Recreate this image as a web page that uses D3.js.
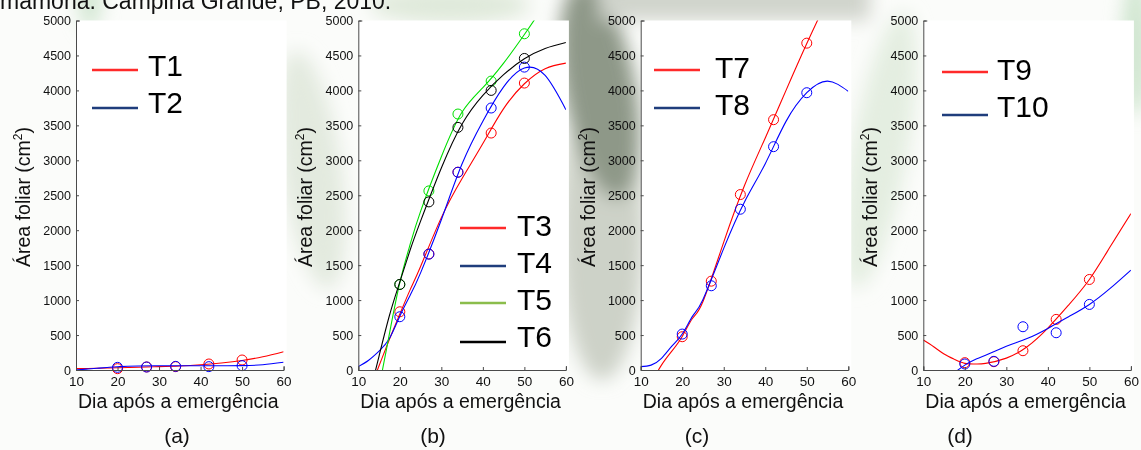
<!DOCTYPE html>
<html>
<head>
<meta charset="utf-8">
<script src="https://cdn.jsdelivr.net/npm/d3@7"></script>
<style>
body { margin: 0; background: #fff; }
text { font-family: "Liberation Sans", Arial, sans-serif; }
</style>
</head>
<body>
<div id="chart"></div>
<script>
"use strict";

// sampling days (observed) and days where the fitted curves were read
var days = [20, 27, 34, 42, 50];
var fitDays = [10, 12.5, 15, 17.5, 20, 22.5, 25, 30, 35, 40, 45, 50, 55, 60];

var obsT1 = [19, 43, 48, 86, 143];
var obsT2 = [38, 43, 52, 48, 62];
var obsT3 = [833, 1660, 2830, 3390, 4105];
var obsT4 = [762, 1657, 2829, 3748, 4333];
var obsT5 = [1224, 2562, 3662, 4133, 4810];
var obsT6 = [1224, 2405, 3471, 4000, 4457];
var obsT7 = [476, 1271, 2510, 3581, 4676];
var obsT8 = [514, 1205, 2300, 3195, 3967];
var obsT9 = [105, 119, 276, 724, 1295];
var obsT10 = [86, 124, 619, 533, 938];

var fitT1 = [20, 22, 25, 28, 32, 36, 40, 48, 58, 75, 100, 135, 190, 262];
var fitT2 = [0, 12, 24, 36, 46, 54, 58, 60, 60, 60, 60, 62, 75, 110];
var fitT3 = [-700, -320, 60, 440, 800, 1150, 1480, 2180, 2740, 3240, 3740, 4095, 4310, 4390];
var fitT4 = [48, 140, 270, 450, 770, 1070, 1390, 2150, 2950, 3560, 4050, 4320, 4214, 3724];
var fitT5 = [-1800, -1000, -250, 520, 1250, 1800, 2270, 3050, 3690, 4040, 4390, 4800, 5250, 5800];
var fitT6 = [-1000, -400, 200, 780, 1260, 1720, 2130, 2890, 3520, 3930, 4225, 4452, 4600, 4685];
var fitT7 = [-520, -200, 70, 270, 480, 740, 980, 1830, 2640, 3320, 4000, 4670, 5300, 5900];
var fitT8 = [48, 70, 167, 340, 514, 770, 1010, 1740, 2405, 2952, 3557, 3967, 4133, 3986];
var fitT9 = [429, 333, 229, 152, 95, 86, 95, 170, 333, 600, 929, 1295, 1762, 2238];
var fitT10 = [-500, -330, -170, -40, 70, 150, 210, 340, 450, 595, 762, 938, 1167, 1429];

var xTicks = [10, 20, 30, 40, 50, 60];
var yTicks = [0, 500, 1000, 1500, 2000, 2500, 3000, 3500, 4000, 4500, 5000];

var RED = "#ff0000", BLUE = "#0000ff", GREEN = "#00e000", BLACK = "#000000";

var panels = [
  { left: 76, label: "(a)", labelX: 177, legX: 92, textX: 148,
    series: [
      { name: "T1", obs: obsT1, fit: fitT1, color: RED, legColor: "#ff2a2a", legY: 70, textY: 76 },
      { name: "T2", obs: obsT2, fit: fitT2, color: BLUE, legColor: "#1f3d7c", legY: 108, textY: 113 }
    ] },
  { left: 358.3, label: "(b)", labelX: 433, legX: 460, textX: 517,
    series: [
      { name: "T3", obs: obsT3, fit: fitT3, color: RED, legColor: "#ff2a2a", legY: 228, textY: 236 },
      { name: "T4", obs: obsT4, fit: fitT4, color: BLUE, legColor: "#1f3d7c", legY: 266, textY: 273 },
      { name: "T5", obs: obsT5, fit: fitT5, color: GREEN, legColor: "#8bbd4c", legY: 303, textY: 310 },
      { name: "T6", obs: obsT6, fit: fitT6, color: BLACK, legColor: "#000000", legY: 342, textY: 347 }
    ] },
  { left: 640.7, label: "(c)", labelX: 697, legX: 654, textX: 715,
    series: [
      { name: "T7", obs: obsT7, fit: fitT7, color: RED, legColor: "#ff2a2a", legY: 70, textY: 78 },
      { name: "T8", obs: obsT8, fit: fitT8, color: BLUE, legColor: "#1f3d7c", legY: 108, textY: 115 }
    ] },
  { left: 923.3, label: "(d)", labelX: 960, legX: 942, textX: 997,
    series: [
      { name: "T9", obs: obsT9, fit: fitT9, color: RED, legColor: "#ff2a2a", legY: 72, textY: 80 },
      { name: "T10", obs: obsT10, fit: fitT10, color: BLUE, legColor: "#1f3d7c", legY: 115, textY: 117 }
    ] }
];

var W = 1141, H = 450;
var plotW = 207.6, plotTop = 20.5, plotBottom = 370;

var svg = d3.select("#chart").append("svg")
    .attr("width", W)
    .attr("height", H);

// faint leafy background of the original page
var defs = svg.append("defs");
defs.append("filter").attr("id", "blur").attr("x", "-50%").attr("y", "-50%")
    .attr("width", "200%").attr("height", "200%")
    .append("feGaussianBlur").attr("stdDeviation", 9);

svg.append("rect").attr("x", 0).attr("y", 0).attr("width", W).attr("height", H).attr("fill", "#fbfcfa");
var bg = svg.append("g").attr("filter", "url(#blur)");
bg.append("ellipse").attr("cx", 90).attr("cy", 0).attr("rx", 12).attr("ry", 30).attr("fill", "#d3e7d3");
bg.append("ellipse").attr("cx", 312).attr("cy", 170).attr("rx", 30).attr("ry", 120)
    .attr("transform", "rotate(-8,312,170)").attr("fill", "#e3eadf");
bg.append("ellipse").attr("cx", 450).attr("cy", 5).attr("rx", 80).attr("ry", 18).attr("fill", "#dfe9da");
bg.append("ellipse").attr("cx", 602).attr("cy", 230).attr("rx", 42).attr("ry", 150).attr("fill", "#cdd2c8");
bg.append("ellipse").attr("cx", 600).attr("cy", 90).attr("rx", 36).attr("ry", 110)
    .attr("transform", "rotate(-10,600,90)").attr("fill", "#8e9888");
bg.append("rect").attr("x", 600).attr("y", -20).attr("width", 270).attr("height", 40).attr("fill", "#d0d4cc");
bg.append("ellipse").attr("cx", 880).attr("cy", 150).attr("rx", 28).attr("ry", 140)
    .attr("transform", "rotate(10,880,150)").attr("fill", "#e4eee1");
bg.append("ellipse").attr("cx", 1136).attr("cy", 45).attr("rx", 14).attr("ry", 70).attr("fill", "#cfe5cf");

// cut-off caption at the very top
svg.append("text")
    .attr("x", 0)
    .attr("y", 9)
    .attr("font-size", 23)
    .attr("fill", "#111")
    .text("mamona. Campina Grande, PB, 2010.");

var y = d3.scaleLinear().domain([0, 5000]).range([plotBottom, plotTop]);

panels.forEach(function(p, pi){
    var xs = d3.scaleLinear().domain([10, 60]).range([p.left, p.left + plotW]);

    svg.append("rect")
        .attr("x", p.left)
        .attr("y", plotTop)
        .attr("width", plotW + 3)
        .attr("height", plotBottom - plotTop)
        .attr("fill", "white");

    defs.append("clipPath").attr("id", "clip" + pi)
        .append("rect")
            .attr("x", p.left)
            .attr("y", plotTop)
            .attr("width", plotW)
            .attr("height", plotBottom - plotTop);

    var g = svg.append("g");

    var line = d3.line()
        .x(function(d){ return xs(d[0]); })
        .y(function(d){ return y(d[1]); })
        .curve(d3.curveNatural);

    p.series.forEach(function(s){
        var pts = fitDays.map(function(d, i){ return [d, s.fit[i]]; });
        g.append("path")
            .attr("clip-path", "url(#clip" + pi + ")")
            .attr("d", line(pts))
            .attr("fill", "none")
            .attr("stroke", s.color)
            .attr("stroke-width", 1.1);

        g.selectAll(null).data(days).enter()
            .append("circle")
                .attr("cx", function(d){ return xs(d); })
                .attr("cy", function(d, i){ return y(s.obs[i]); })
                .attr("r", 5)
                .attr("fill", "none")
                .attr("stroke", s.color)
                .attr("stroke-width", 1);
    });

    // axes
    var ax = svg.append("g")
        .attr("transform", "translate(0," + plotBottom + ")")
        .call(d3.axisBottom(xs).tickValues(xTicks).tickFormat(d3.format("d"))
            .tickSize(-3).tickSizeOuter(-4).tickPadding(6));
    var ay = svg.append("g")
        .attr("transform", "translate(" + p.left + ",0)")
        .call(d3.axisLeft(y).tickValues(yTicks).tickFormat(d3.format("d"))
            .tickSize(-3).tickSizeOuter(-4).tickPadding(5));
    [ax, ay].forEach(function(a){
        a.selectAll("path, line").attr("stroke", "#4a4a4a");
        a.selectAll("text").attr("fill", "#111").style("font-family", "'Liberation Sans', Arial, sans-serif");
    });
    ax.selectAll("text").attr("font-size", 13.5);
    ay.selectAll("text").attr("font-size", 12.5);

    // axis titles
    svg.append("text")
        .attr("x", p.left + plotW / 2 - 1.5)
        .attr("y", 408)
        .attr("text-anchor", "middle")
        .attr("font-size", 19.5)
        .attr("fill", "#111")
        .text("Dia após a emergência");

    var yt = svg.append("text")
        .attr("transform", "translate(" + (p.left - 46) + ",197) rotate(-90)")
        .attr("text-anchor", "middle")
        .attr("font-size", 19.5)
        .attr("fill", "#111");
    yt.append("tspan").text("Área foliar (cm");
    yt.append("tspan").attr("font-size", 12).attr("dy", -8).text("2");
    yt.append("tspan").attr("dy", 8).text(")");

    svg.append("text")
        .attr("x", p.labelX)
        .attr("y", 443)
        .attr("text-anchor", "middle")
        .attr("font-size", 21)
        .attr("fill", "#111")
        .text(p.label);

    // legend
    p.series.forEach(function(s){
        svg.append("line")
            .attr("x1", p.legX)
            .attr("x2", p.legX + 46)
            .attr("y1", s.legY)
            .attr("y2", s.legY)
            .attr("stroke", s.legColor)
            .attr("stroke-width", 2.6);
        svg.append("text")
            .attr("x", p.textX)
            .attr("y", s.textY)
            .attr("font-size", 30)
            .attr("fill", "#000")
            .text(s.name);
    });
});
</script>
</body>
</html>
